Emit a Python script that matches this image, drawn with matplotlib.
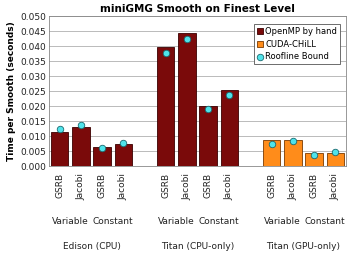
import matplotlib.pyplot as plt
import numpy as np

# data
bar_labels = ["GSRB", "Jacobi", "GSRB", "Jacobi"] * 3
coef_labels = ["Variable", "Constant"]
groups = ["Edison (CPU)", "Titan (CPU-only)", "Titan (GPU-only)"]
openmp = [0.0115, 0.0130, 0.0062, 0.0073, 0.0398, 0.0445, 0.0200, 0.0253]
cudachill = [0.0087, 0.0087, 0.0043, 0.0045]
roofline = [0.0123, 0.0138, 0.0061, 0.0076, 0.0378, 0.0425, 0.0190, 0.0237,
            0.0074, 0.0083, 0.0038, 0.0046]

x = np.array([0, 1, 2, 3, 5, 6, 7, 8, 10, 11, 12, 13])

fig = plt.figure(figsize=(3.48, 2.59), dpi=100)
ax = fig.add_axes([0.141, 0.359, 0.853, 0.579])

b1 = ax.bar(x[:8], openmp, width=0.82, color="#7a0a0a", edgecolor="#3a0000",
            linewidth=0.6, label="OpenMP by hand", zorder=2)
b2 = ax.bar(x[8:], cudachill, width=0.82, color="#ff8c1a", edgecolor="#7a3a00",
            linewidth=0.6, label="CUDA-CHiLL", zorder=2)
sc = ax.scatter(x, roofline, s=22, color="#4fe3ea", edgecolor="#1a6a70",
                linewidth=0.6, label="Roofline Bound", zorder=3)

ax.set_xlim(-0.5, 13.5)
ax.set_ylim(0, 0.05)
ticks = np.arange(0, 0.0501, 0.005)
ax.set_yticks(ticks)
ax.set_yticklabels(["%.3f" % v for v in ticks], fontsize=6.5, color="#222222")
ax.yaxis.grid(True, color="#b0b0b0", linewidth=0.6, zorder=0)
ax.set_axisbelow(True)
for s in ax.spines.values():
    s.set_color("#888888")
    s.set_linewidth(0.6)
ax.tick_params(axis="y", length=0, pad=2)
ax.tick_params(axis="x", length=0, pad=5)
ax.set_xticks(x)
ax.set_xticklabels(bar_labels, rotation=90, fontsize=6.5, color="#222222")

ax.set_ylabel("Time per Smooth (seconds)", fontsize=6.5, fontweight="bold", labelpad=3)
ax.set_title("miniGMG Smooth on Finest Level", fontsize=7.5, fontweight="bold", pad=3)

# second and third level category labels
for g in range(3):
    base = g * 5
    for k, lab in enumerate(coef_labels):
        ax.text(base + 2 * k + 0.5, -0.0185, lab, ha="center", va="center",
                fontsize=6.5, color="#222222")
    ax.text(base + 1.5, -0.0268, groups[g], ha="center", va="center",
            fontsize=6.5, color="#222222")

leg = ax.legend([b1, b2, sc], ["OpenMP by hand", "CUDA-CHiLL", "Roofline Bound"],
                loc="upper right", fontsize=6, handlelength=0.7, handleheight=0.7,
                handletextpad=0.3, borderpad=0.35, labelspacing=0.45,
                fancybox=False, framealpha=1, edgecolor="#555555",
                bbox_to_anchor=(0.995, 0.975))
leg.get_frame().set_linewidth(0.6)

fig.savefig("out.png", dpi=100)
